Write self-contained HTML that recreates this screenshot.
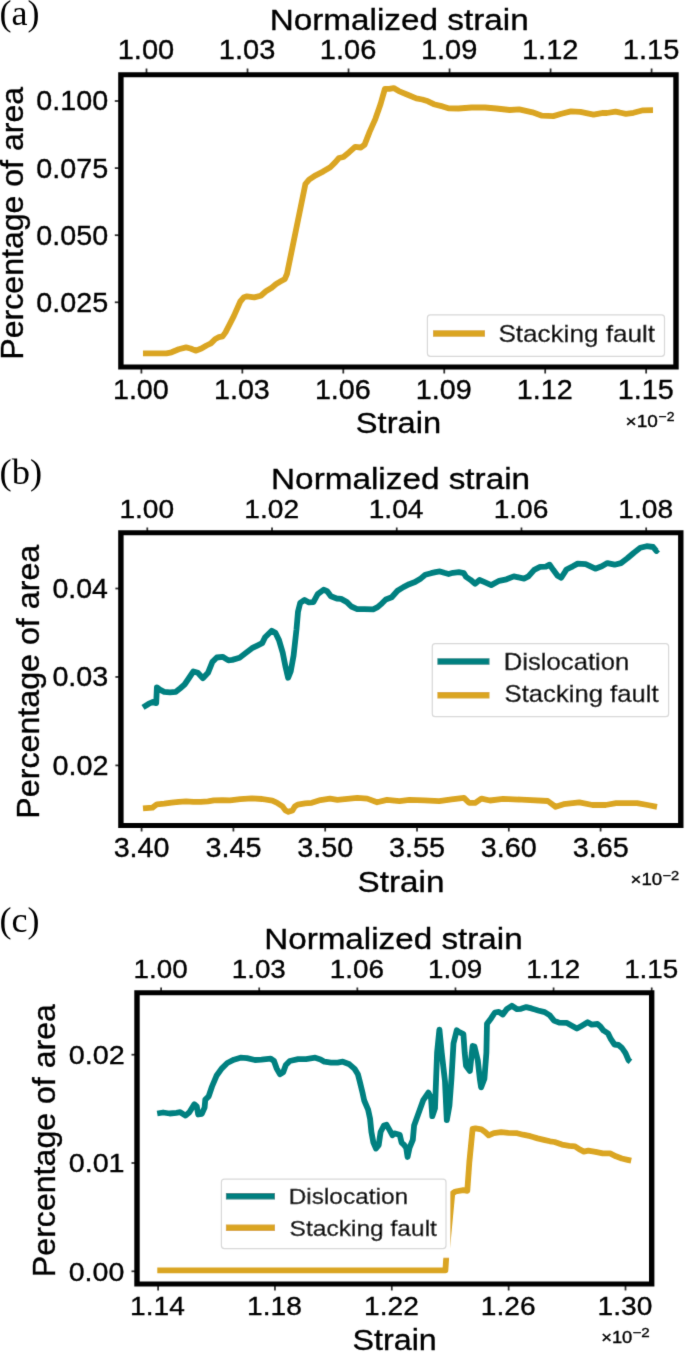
<!DOCTYPE html>
<html><head><meta charset="utf-8"><style>
html,body{margin:0;padding:0;background:#fff;width:685px;height:1352px;overflow:hidden}
svg{display:block}
</style></head><body>
<svg width="685" height="1352" viewBox="0 0 685 1352">
<defs><filter id="bl" x="0" y="0" width="685" height="1352" filterUnits="userSpaceOnUse"><feConvolveMatrix order="3" kernelMatrix="0.01134 0.08382 0.01134 0.08382 0.61935 0.08382 0.01134 0.08382 0.01134" edgeMode="duplicate" preserveAlpha="false"/></filter></defs>
<rect width="685" height="1352" fill="#fff"/>
<g filter="url(#bl)">
<text transform="translate(-0.49,24.80) scale(0.9983,1)" style="font-family:'Liberation Serif',serif;font-size:36.17px" fill="#000" stroke="#000" stroke-width="0.000">(a)</text>
<text transform="translate(269.67,30.20) scale(1.1122,1)" style="font-family:'Liberation Sans',sans-serif;font-size:29.94px" fill="#000" stroke="#000" stroke-width="0.350">Normalized strain</text>
<text transform="translate(117.70,59.00) scale(1.0700,1)" style="font-family:'Liberation Sans',sans-serif;font-size:27.14px" fill="#000" stroke="#000" stroke-width="0.350">1.00</text>
<text transform="translate(218.80,59.00) scale(1.0700,1)" style="font-family:'Liberation Sans',sans-serif;font-size:27.14px" fill="#000" stroke="#000" stroke-width="0.350">1.03</text>
<text transform="translate(319.82,59.00) scale(1.0700,1)" style="font-family:'Liberation Sans',sans-serif;font-size:27.14px" fill="#000" stroke="#000" stroke-width="0.350">1.06</text>
<text transform="translate(420.88,59.00) scale(1.0700,1)" style="font-family:'Liberation Sans',sans-serif;font-size:27.14px" fill="#000" stroke="#000" stroke-width="0.350">1.09</text>
<text transform="translate(521.94,59.00) scale(1.0700,1)" style="font-family:'Liberation Sans',sans-serif;font-size:27.14px" fill="#000" stroke="#000" stroke-width="0.350">1.12</text>
<text transform="translate(622.85,59.00) scale(1.0700,1)" style="font-family:'Liberation Sans',sans-serif;font-size:27.14px" fill="#000" stroke="#000" stroke-width="0.350">1.15</text>
<line x1="146.50" y1="68.5" x2="146.50" y2="73" stroke="#333" stroke-width="1.8"/>
<line x1="247.52" y1="68.5" x2="247.52" y2="73" stroke="#333" stroke-width="1.8"/>
<line x1="348.54" y1="68.5" x2="348.54" y2="73" stroke="#333" stroke-width="1.8"/>
<line x1="449.56" y1="68.5" x2="449.56" y2="73" stroke="#333" stroke-width="1.8"/>
<line x1="550.58" y1="68.5" x2="550.58" y2="73" stroke="#333" stroke-width="1.8"/>
<line x1="651.60" y1="68.5" x2="651.60" y2="73" stroke="#333" stroke-width="1.8"/>
<line x1="141.40" y1="368" x2="141.40" y2="373.5" stroke="#333" stroke-width="1.8"/>
<line x1="242.35" y1="368" x2="242.35" y2="373.5" stroke="#333" stroke-width="1.8"/>
<line x1="343.30" y1="368" x2="343.30" y2="373.5" stroke="#333" stroke-width="1.8"/>
<line x1="444.25" y1="368" x2="444.25" y2="373.5" stroke="#333" stroke-width="1.8"/>
<line x1="545.20" y1="368" x2="545.20" y2="373.5" stroke="#333" stroke-width="1.8"/>
<line x1="646.15" y1="368" x2="646.15" y2="373.5" stroke="#333" stroke-width="1.8"/>
<text transform="translate(112.91,398.60) scale(1.0700,1)" style="font-family:'Liberation Sans',sans-serif;font-size:26.86px" fill="#000" stroke="#000" stroke-width="0.350">1.00</text>
<text transform="translate(213.93,398.60) scale(1.0700,1)" style="font-family:'Liberation Sans',sans-serif;font-size:26.86px" fill="#000" stroke="#000" stroke-width="0.350">1.03</text>
<text transform="translate(314.88,398.60) scale(1.0700,1)" style="font-family:'Liberation Sans',sans-serif;font-size:26.86px" fill="#000" stroke="#000" stroke-width="0.350">1.06</text>
<text transform="translate(415.87,398.60) scale(1.0700,1)" style="font-family:'Liberation Sans',sans-serif;font-size:26.86px" fill="#000" stroke="#000" stroke-width="0.350">1.09</text>
<text transform="translate(516.87,398.60) scale(1.0700,1)" style="font-family:'Liberation Sans',sans-serif;font-size:26.86px" fill="#000" stroke="#000" stroke-width="0.350">1.12</text>
<text transform="translate(617.70,398.60) scale(1.0700,1)" style="font-family:'Liberation Sans',sans-serif;font-size:26.86px" fill="#000" stroke="#000" stroke-width="0.350">1.15</text>
<line x1="114.8" y1="101.00" x2="119" y2="101.00" stroke="#333" stroke-width="1.8"/>
<line x1="114.8" y1="168.10" x2="119" y2="168.10" stroke="#333" stroke-width="1.8"/>
<line x1="114.8" y1="235.20" x2="119" y2="235.20" stroke="#333" stroke-width="1.8"/>
<line x1="114.8" y1="302.30" x2="119" y2="302.30" stroke="#333" stroke-width="1.8"/>
<text transform="translate(36.28,110.40) scale(1.0578,1)" style="font-family:'Liberation Sans',sans-serif;font-size:27.14px" fill="#000" stroke="#000" stroke-width="0.350">0.100</text>
<text transform="translate(36.28,177.50) scale(1.0592,1)" style="font-family:'Liberation Sans',sans-serif;font-size:27.14px" fill="#000" stroke="#000" stroke-width="0.350">0.075</text>
<text transform="translate(36.28,244.60) scale(1.0578,1)" style="font-family:'Liberation Sans',sans-serif;font-size:27.14px" fill="#000" stroke="#000" stroke-width="0.350">0.050</text>
<text transform="translate(36.28,311.70) scale(1.0592,1)" style="font-family:'Liberation Sans',sans-serif;font-size:27.14px" fill="#000" stroke="#000" stroke-width="0.350">0.025</text>
<text transform="translate(22.90,359.63) rotate(-90) scale(1.0316,1)" style="font-family:'Liberation Sans',sans-serif;font-size:31.10px" stroke="#000" stroke-width="0.350">Percentage of area</text>
<text transform="translate(355.80,433.30) scale(1.0941,1)" style="font-family:'Liberation Sans',sans-serif;font-size:29.86px" fill="#000" stroke="#000" stroke-width="0.350">Strain</text>
<text transform="translate(625.57,426.60) scale(1.1289,1)" style="font-family:'Liberation Sans',sans-serif;font-size:16.86px" fill="#000" stroke="#000" stroke-width="0.350">×10</text>
<text transform="translate(658.62,420.70) scale(1.0715,1)" style="font-family:'Liberation Sans',sans-serif;font-size:13.00px" fill="#000" stroke="#000" stroke-width="0.350">−2</text>
<polyline points="143.0,353.3 156.9,353.3 166.5,353.3 171.5,352.3 178.8,349.3 186.1,347.4 190.5,348.5 195.6,350.7 201.4,348.5 206.5,345.5 210.9,343.4 215.3,339.0 218.9,337.2 222.6,336.4 225.5,332.4 233.8,316.1 240.3,301.5 244.0,297.2 246.9,296.4 254.2,297.4 260.8,295.7 265.9,291.3 271.7,287.7 276.1,284.0 281.2,281.1 284.9,278.9 287.0,273.8 305.4,184.0 309.1,179.6 315.7,175.3 323.0,171.6 330.3,167.2 335.4,162.1 339.0,158.0 343.4,157.0 349.2,152.2 355.1,146.8 360.9,147.5 364.6,144.6 369.6,131.9 375.4,118.8 380.5,104.2 384.9,88.9 389.3,88.9 393.7,88.1 398.8,91.1 407.6,94.7 416.3,98.4 422.2,99.5 428.0,101.3 433.8,104.2 442.6,106.4 448.4,108.3 458.5,108.5 471.7,107.5 485.0,107.5 496.4,108.5 509.7,110.0 519.2,109.4 532.5,112.3 542.0,115.7 553.3,116.1 561.4,113.8 570.9,111.4 580.4,111.8 593.6,114.6 603.1,112.8 606.9,113.0 615.5,111.6 625.9,113.8 633.5,112.8 643.0,110.3 653.0,110.2" fill="none" stroke="#DAA520" stroke-width="5.8" stroke-linejoin="round" stroke-linecap="butt"/>
<path d="M118.2,72.3H678.7V369.6H118.2Z M123.60000000000001,77.3V364.6H673.3V77.3Z" fill="#000" fill-rule="evenodd"/>
<rect x="427.4" y="314.9" width="237.10000000000002" height="41.400000000000034" rx="3" fill="#fff" fill-opacity="0.8" stroke="#d8d8d8" stroke-width="1.2"/>
<line x1="433" y1="333.5" x2="485" y2="333.5" stroke="#DAA520" stroke-width="6.5"/>
<text transform="translate(498.40,342.20) scale(1.0614,1)" style="font-family:'Liberation Sans',sans-serif;font-size:24.57px" fill="#000" stroke="#000" stroke-width="0.350">Stacking fault</text>
<text transform="translate(-0.51,483.50) scale(1.0106,1)" style="font-family:'Liberation Serif',serif;font-size:36.17px" fill="#000" stroke="#000" stroke-width="0.000">(b)</text>
<text transform="translate(271.07,489.40) scale(1.1236,1)" style="font-family:'Liberation Sans',sans-serif;font-size:29.65px" fill="#000" stroke="#000" stroke-width="0.350">Normalized strain</text>
<text transform="translate(119.41,517.80) scale(1.0700,1)" style="font-family:'Liberation Sans',sans-serif;font-size:26.29px" fill="#000" stroke="#000" stroke-width="0.350">1.00</text>
<text transform="translate(244.29,517.80) scale(1.0700,1)" style="font-family:'Liberation Sans',sans-serif;font-size:26.29px" fill="#000" stroke="#000" stroke-width="0.350">1.02</text>
<text transform="translate(368.71,517.80) scale(1.0700,1)" style="font-family:'Liberation Sans',sans-serif;font-size:26.29px" fill="#000" stroke="#000" stroke-width="0.350">1.04</text>
<text transform="translate(493.64,517.80) scale(1.0700,1)" style="font-family:'Liberation Sans',sans-serif;font-size:26.29px" fill="#000" stroke="#000" stroke-width="0.350">1.06</text>
<text transform="translate(618.35,517.80) scale(1.0700,1)" style="font-family:'Liberation Sans',sans-serif;font-size:26.29px" fill="#000" stroke="#000" stroke-width="0.350">1.08</text>
<line x1="147.30" y1="527.5" x2="147.30" y2="531.5" stroke="#333" stroke-width="1.8"/>
<line x1="272.02" y1="527.5" x2="272.02" y2="531.5" stroke="#333" stroke-width="1.8"/>
<line x1="396.74" y1="527.5" x2="396.74" y2="531.5" stroke="#333" stroke-width="1.8"/>
<line x1="521.46" y1="527.5" x2="521.46" y2="531.5" stroke="#333" stroke-width="1.8"/>
<line x1="646.18" y1="527.5" x2="646.18" y2="531.5" stroke="#333" stroke-width="1.8"/>
<line x1="141.60" y1="826" x2="141.60" y2="831.5" stroke="#333" stroke-width="1.8"/>
<line x1="233.40" y1="826" x2="233.40" y2="831.5" stroke="#333" stroke-width="1.8"/>
<line x1="325.20" y1="826" x2="325.20" y2="831.5" stroke="#333" stroke-width="1.8"/>
<line x1="417.00" y1="826" x2="417.00" y2="831.5" stroke="#333" stroke-width="1.8"/>
<line x1="508.80" y1="826" x2="508.80" y2="831.5" stroke="#333" stroke-width="1.8"/>
<line x1="600.60" y1="826" x2="600.60" y2="831.5" stroke="#333" stroke-width="1.8"/>
<text transform="translate(113.65,856.60) scale(1.0700,1)" style="font-family:'Liberation Sans',sans-serif;font-size:26.86px" fill="#000" stroke="#000" stroke-width="0.350">3.40</text>
<text transform="translate(205.50,856.60) scale(1.0700,1)" style="font-family:'Liberation Sans',sans-serif;font-size:26.86px" fill="#000" stroke="#000" stroke-width="0.350">3.45</text>
<text transform="translate(297.25,856.60) scale(1.0700,1)" style="font-family:'Liberation Sans',sans-serif;font-size:26.86px" fill="#000" stroke="#000" stroke-width="0.350">3.50</text>
<text transform="translate(389.10,856.60) scale(1.0700,1)" style="font-family:'Liberation Sans',sans-serif;font-size:26.86px" fill="#000" stroke="#000" stroke-width="0.350">3.55</text>
<text transform="translate(480.85,856.60) scale(1.0700,1)" style="font-family:'Liberation Sans',sans-serif;font-size:26.86px" fill="#000" stroke="#000" stroke-width="0.350">3.60</text>
<text transform="translate(572.70,856.60) scale(1.0700,1)" style="font-family:'Liberation Sans',sans-serif;font-size:26.86px" fill="#000" stroke="#000" stroke-width="0.350">3.65</text>
<line x1="115.4" y1="588.50" x2="119.6" y2="588.50" stroke="#333" stroke-width="1.8"/>
<line x1="115.4" y1="676.95" x2="119.6" y2="676.95" stroke="#333" stroke-width="1.8"/>
<line x1="115.4" y1="765.40" x2="119.6" y2="765.40" stroke="#333" stroke-width="1.8"/>
<text transform="translate(52.39,597.90) scale(1.0607,1)" style="font-family:'Liberation Sans',sans-serif;font-size:26.86px" fill="#000" stroke="#000" stroke-width="0.350">0.04</text>
<text transform="translate(52.38,686.35) scale(1.0693,1)" style="font-family:'Liberation Sans',sans-serif;font-size:26.86px" fill="#000" stroke="#000" stroke-width="0.350">0.03</text>
<text transform="translate(52.38,774.80) scale(1.0727,1)" style="font-family:'Liberation Sans',sans-serif;font-size:26.86px" fill="#000" stroke="#000" stroke-width="0.350">0.02</text>
<text transform="translate(39.40,818.64) rotate(-90) scale(1.0072,1)" style="font-family:'Liberation Sans',sans-serif;font-size:31.98px" stroke="#000" stroke-width="0.350">Percentage of area</text>
<text transform="translate(357.57,892.40) scale(1.1346,1)" style="font-family:'Liberation Sans',sans-serif;font-size:29.29px" fill="#000" stroke="#000" stroke-width="0.350">Strain</text>
<text transform="translate(630.59,885.30) scale(1.1353,1)" style="font-family:'Liberation Sans',sans-serif;font-size:16.43px" fill="#000" stroke="#000" stroke-width="0.350">×10</text>
<text transform="translate(662.48,879.50) scale(1.1484,1)" style="font-family:'Liberation Sans',sans-serif;font-size:12.71px" fill="#000" stroke="#000" stroke-width="0.350">−2</text>
<polyline points="143.0,808.4 152.5,807.6 156.9,804.3 164.2,803.7 171.5,802.6 178.8,801.8 186.1,801.3 193.4,801.8 200.7,801.9 208.0,801.4 213.8,800.3 222.6,800.2 230.0,800.3 240.2,799.2 251.9,798.4 262.1,799.0 272.3,800.6 276.7,802.6 282.5,806.4 285.4,810.4 288.4,811.8 292.4,810.4 294.8,806.5 297.7,804.6 305.0,803.4 311.8,802.8 320.5,800.1 330.0,798.7 337.4,799.9 357.3,797.9 367.2,798.6 377.1,802.3 387.0,799.9 399.5,801.1 409.4,799.9 424.3,800.4 439.2,801.1 451.6,799.4 464.0,797.9 469.0,802.8 475.2,802.8 481.4,798.6 490.0,800.5 503.1,798.9 521.5,799.7 547.8,801.0 555.7,806.8 563.6,804.2 579.3,802.3 592.5,805.0 605.6,805.0 616.1,803.1 637.1,803.1 647.6,805.0 657.0,806.8" fill="none" stroke="#DAA520" stroke-width="5.8" stroke-linejoin="round" stroke-linecap="butt"/>
<polyline points="143.0,707.4 148.1,704.2 152.5,702.0 156.2,703.1 156.9,687.4 159.8,689.6 164.2,691.8 170.0,692.3 175.9,691.8 180.3,688.2 184.6,684.5 189.0,678.0 193.4,671.4 197.8,672.8 202.9,678.2 208.0,672.8 212.4,661.9 216.8,657.5 222.6,656.8 228.4,660.4 232.3,659.9 239.6,657.7 245.4,653.3 252.0,648.2 257.8,645.3 262.2,643.1 265.1,637.2 271.7,630.7 275.4,632.8 279.0,640.1 282.7,652.6 285.6,667.2 288.1,677.8 290.7,671.5 293.6,655.5 296.5,629.2 298.0,611.7 300.2,602.9 304.6,599.9 309.0,602.4 313.4,602.1 317.7,594.1 323.6,589.7 327.2,591.2 330.9,596.3 336.7,598.5 341.1,598.9 346.9,602.1 351.3,606.5 357.2,609.1 364.5,609.1 373.2,609.4 377.6,607.2 382.0,603.3 385.8,599.5 391.7,597.3 397.5,590.8 403.4,587.1 409.2,584.2 415.0,582.0 420.9,578.4 425.3,574.7 431.1,573.2 435.5,572.2 439.9,571.4 444.2,572.8 448.6,574.0 453.0,572.8 458.8,572.2 463.9,573.2 466.1,576.9 470.5,579.8 475.1,583.7 479.5,580.0 484.6,582.2 491.2,585.1 499.2,580.8 506.5,579.3 513.8,576.4 524.0,578.6 528.4,576.4 534.2,569.8 540.1,566.9 545.9,566.6 549.6,564.7 553.2,569.8 557.6,575.7 561.2,577.8 564.9,572.0 566.4,569.5 572.8,566.3 577.7,563.6 585.7,564.2 595.3,568.7 601.8,566.3 607.4,563.1 614.6,564.7 621.0,563.1 627.4,558.3 633.9,552.7 640.3,547.8 646.7,546.2 653.1,547.0 656.4,551.0 658.0,549.5" fill="none" stroke="#008080" stroke-width="5.8" stroke-linejoin="round" stroke-linecap="butt"/>
<path d="M118.2,530.3H683.5V827.9H118.2Z M123.60000000000001,535.3V822.9H678.0999999999999V535.3Z" fill="#000" fill-rule="evenodd"/>
<rect x="432.3" y="643.6" width="236.3" height="73.10000000000002" rx="3" fill="#fff" fill-opacity="0.8" stroke="#d8d8d8" stroke-width="1.2"/>
<line x1="437.4" y1="661.6" x2="489.5" y2="661.6" stroke="#008080" stroke-width="6.5"/>
<line x1="437.4" y1="695.3" x2="489.5" y2="695.3" stroke="#DAA520" stroke-width="6.5"/>
<text transform="translate(503.69,669.70) scale(1.1044,1)" style="font-family:'Liberation Sans',sans-serif;font-size:23.29px" fill="#000" stroke="#000" stroke-width="0.350">Dislocation</text>
<text transform="translate(504.62,702.40) scale(1.1012,1)" style="font-family:'Liberation Sans',sans-serif;font-size:23.29px" fill="#000" stroke="#000" stroke-width="0.350">Stacking fault</text>
<text transform="translate(-0.49,931.80) scale(1.0063,1)" style="font-family:'Liberation Serif',serif;font-size:35.88px" fill="#000" stroke="#000" stroke-width="0.000">(c)</text>
<text transform="translate(264.17,948.70) scale(1.1491,1)" style="font-family:'Liberation Sans',sans-serif;font-size:28.92px" fill="#000" stroke="#000" stroke-width="0.350">Normalized strain</text>
<text transform="translate(133.52,977.50) scale(1.0700,1)" style="font-family:'Liberation Sans',sans-serif;font-size:26.00px" fill="#000" stroke="#000" stroke-width="0.350">1.00</text>
<text transform="translate(231.71,977.50) scale(1.0700,1)" style="font-family:'Liberation Sans',sans-serif;font-size:26.00px" fill="#000" stroke="#000" stroke-width="0.350">1.03</text>
<text transform="translate(329.83,977.50) scale(1.0700,1)" style="font-family:'Liberation Sans',sans-serif;font-size:26.00px" fill="#000" stroke="#000" stroke-width="0.350">1.06</text>
<text transform="translate(427.99,977.50) scale(1.0700,1)" style="font-family:'Liberation Sans',sans-serif;font-size:26.00px" fill="#000" stroke="#000" stroke-width="0.350">1.09</text>
<text transform="translate(526.15,977.50) scale(1.0700,1)" style="font-family:'Liberation Sans',sans-serif;font-size:26.00px" fill="#000" stroke="#000" stroke-width="0.350">1.12</text>
<text transform="translate(624.16,977.50) scale(1.0700,1)" style="font-family:'Liberation Sans',sans-serif;font-size:26.00px" fill="#000" stroke="#000" stroke-width="0.350">1.15</text>
<line x1="161.10" y1="987.5" x2="161.10" y2="991" stroke="#333" stroke-width="1.8"/>
<line x1="259.22" y1="987.5" x2="259.22" y2="991" stroke="#333" stroke-width="1.8"/>
<line x1="357.34" y1="987.5" x2="357.34" y2="991" stroke="#333" stroke-width="1.8"/>
<line x1="455.46" y1="987.5" x2="455.46" y2="991" stroke="#333" stroke-width="1.8"/>
<line x1="553.58" y1="987.5" x2="553.58" y2="991" stroke="#333" stroke-width="1.8"/>
<line x1="651.70" y1="987.5" x2="651.70" y2="991" stroke="#333" stroke-width="1.8"/>
<line x1="158.10" y1="1285" x2="158.10" y2="1290.5" stroke="#333" stroke-width="1.8"/>
<line x1="274.95" y1="1285" x2="274.95" y2="1290.5" stroke="#333" stroke-width="1.8"/>
<line x1="391.80" y1="1285" x2="391.80" y2="1290.5" stroke="#333" stroke-width="1.8"/>
<line x1="508.65" y1="1285" x2="508.65" y2="1290.5" stroke="#333" stroke-width="1.8"/>
<line x1="625.50" y1="1285" x2="625.50" y2="1290.5" stroke="#333" stroke-width="1.8"/>
<text transform="translate(130.07,1315.20) scale(1.0700,1)" style="font-family:'Liberation Sans',sans-serif;font-size:26.29px" fill="#000" stroke="#000" stroke-width="0.350">1.14</text>
<text transform="translate(247.12,1315.20) scale(1.0700,1)" style="font-family:'Liberation Sans',sans-serif;font-size:26.29px" fill="#000" stroke="#000" stroke-width="0.350">1.18</text>
<text transform="translate(364.07,1315.20) scale(1.0700,1)" style="font-family:'Liberation Sans',sans-serif;font-size:26.29px" fill="#000" stroke="#000" stroke-width="0.350">1.22</text>
<text transform="translate(480.83,1315.20) scale(1.0700,1)" style="font-family:'Liberation Sans',sans-serif;font-size:26.29px" fill="#000" stroke="#000" stroke-width="0.350">1.26</text>
<text transform="translate(597.61,1315.20) scale(1.0700,1)" style="font-family:'Liberation Sans',sans-serif;font-size:26.29px" fill="#000" stroke="#000" stroke-width="0.350">1.30</text>
<line x1="131.5" y1="1054.70" x2="135.5" y2="1054.70" stroke="#333" stroke-width="1.8"/>
<line x1="131.5" y1="1163.00" x2="135.5" y2="1163.00" stroke="#333" stroke-width="1.8"/>
<line x1="131.5" y1="1271.30" x2="135.5" y2="1271.30" stroke="#333" stroke-width="1.8"/>
<text transform="translate(68.68,1063.90) scale(1.0940,1)" style="font-family:'Liberation Sans',sans-serif;font-size:26.29px" fill="#000" stroke="#000" stroke-width="0.350">0.02</text>
<text transform="translate(68.68,1172.20) scale(1.0934,1)" style="font-family:'Liberation Sans',sans-serif;font-size:26.29px" fill="#000" stroke="#000" stroke-width="0.350">0.01</text>
<text transform="translate(68.69,1280.50) scale(1.0875,1)" style="font-family:'Liberation Sans',sans-serif;font-size:26.29px" fill="#000" stroke="#000" stroke-width="0.350">0.00</text>
<text transform="translate(54.90,1277.13) rotate(-90) scale(1.0088,1)" style="font-family:'Liberation Sans',sans-serif;font-size:31.83px" stroke="#000" stroke-width="0.350">Percentage of area</text>
<text transform="translate(352.62,1350.40) scale(1.0846,1)" style="font-family:'Liberation Sans',sans-serif;font-size:29.71px" fill="#000" stroke="#000" stroke-width="0.350">Strain</text>
<text transform="translate(601.22,1342.80) scale(1.1259,1)" style="font-family:'Liberation Sans',sans-serif;font-size:16.29px" fill="#000" stroke="#000" stroke-width="0.350">×10</text>
<text transform="translate(632.46,1337.20) scale(1.1997,1)" style="font-family:'Liberation Sans',sans-serif;font-size:12.57px" fill="#000" stroke="#000" stroke-width="0.350">−2</text>
<polyline points="157.3,1270.3 300.0,1270.3 445.4,1270.3 446.2,1258.0 452.3,1193.5 455.5,1191.5 463.4,1190.2 467.3,1190.8 469.3,1162.6 472.6,1128.9 475.5,1128.4 481.4,1129.3 485.0,1131.8 488.7,1135.4 493.8,1133.2 501.1,1132.2 508.4,1132.8 517.2,1133.2 523.0,1134.7 530.3,1136.2 537.6,1138.4 544.9,1140.1 550.0,1141.3 554.6,1142.0 561.9,1144.6 569.2,1145.8 575.0,1146.4 580.1,1149.7 583.8,1151.6 588.2,1150.7 595.5,1151.9 602.8,1153.4 610.1,1153.4 615.9,1156.3 621.8,1158.5 627.6,1159.9 631.2,1160.7" fill="none" stroke="#DAA520" stroke-width="5.8" stroke-linejoin="round" stroke-linecap="butt"/>
<polyline points="157.2,1113.5 163.1,1112.5 169.7,1113.5 176.3,1112.8 180.2,1112.2 185.5,1115.6 189.4,1112.2 194.3,1104.3 196.8,1106.5 198.2,1114.5 201.8,1113.8 204.6,1107.6 205.3,1099.6 208.7,1096.3 212.0,1086.5 216.5,1075.8 221.6,1068.6 227.3,1063.0 233.9,1059.7 240.5,1057.7 247.0,1058.1 254.9,1060.0 261.5,1059.7 270.7,1058.7 274.0,1061.0 276.6,1068.3 279.9,1074.2 283.2,1072.2 285.8,1065.0 289.8,1061.0 298.1,1059.1 306.0,1059.1 315.2,1057.7 320.5,1059.4 324.4,1061.7 331.0,1062.6 337.6,1062.6 342.8,1061.7 349.4,1064.3 354.6,1068.9 357.9,1074.2 359.9,1082.0 362.5,1092.6 364.2,1100.5 368.1,1109.7 370.1,1118.9 371.4,1132.0 373.4,1142.6 376.0,1148.5 378.7,1145.2 380.6,1132.0 383.9,1125.5 386.5,1124.8 389.2,1129.4 392.5,1135.3 394.4,1133.4 399.7,1134.7 401.6,1142.6 404.3,1145.2 406.2,1147.8 407.6,1157.0 409.5,1147.8 412.8,1139.9 414.1,1125.5 417.9,1114.9 423.1,1100.4 428.4,1092.6 431.0,1097.8 432.3,1116.2 435.0,1108.3 437.1,1052.6 439.4,1029.6 441.7,1052.6 445.0,1081.5 446.8,1120.2 449.4,1105.7 451.4,1079.4 453.5,1043.4 456.8,1030.2 459.4,1032.2 463.4,1034.2 464.7,1052.6 466.0,1065.7 469.9,1071.0 472.6,1046.0 474.5,1046.6 477.8,1060.4 479.8,1078.8 481.1,1087.4 484.4,1078.8 486.4,1052.6 487.0,1023.7 491.0,1018.4 494.9,1012.5 498.8,1011.8 502.8,1014.5 506.7,1009.2 511.8,1005.8 517.1,1009.2 521.0,1008.8 526.3,1007.1 531.5,1008.4 538.1,1010.5 544.7,1012.1 549.9,1015.4 553.9,1020.6 559.1,1022.6 567.0,1022.9 572.3,1025.9 576.9,1028.5 581.5,1025.9 587.6,1022.3 591.7,1024.6 597.5,1024.0 600.4,1026.4 603.4,1030.4 608.0,1033.4 610.9,1039.2 614.5,1044.5 618.5,1045.0 622.0,1048.0 625.5,1053.2 628.5,1060.2 630.5,1061.8" fill="none" stroke="#008080" stroke-width="5.8" stroke-linejoin="round" stroke-linecap="butt"/>
<rect x="215" y="1175" width="235.3" height="82.7" fill="#fff"/>
<path d="M134.3,990.2H654.4000000000001V1286.5H134.3Z M139.7,995.2V1281.5H649.0V995.2Z" fill="#000" fill-rule="evenodd"/>
<rect x="221.4" y="1179.2" width="224.6" height="69.39999999999986" rx="3" fill="#fff" fill-opacity="0.8" stroke="#d8d8d8" stroke-width="1.2"/>
<line x1="225.9" y1="1196.2" x2="275.0" y2="1196.2" stroke="#008080" stroke-width="6.5"/>
<line x1="225.9" y1="1227.8" x2="275.0" y2="1227.8" stroke="#DAA520" stroke-width="6.5"/>
<text transform="translate(288.70,1203.70) scale(1.1468,1)" style="font-family:'Liberation Sans',sans-serif;font-size:21.29px" fill="#000" stroke="#000" stroke-width="0.350">Dislocation</text>
<text transform="translate(289.57,1235.80) scale(1.0877,1)" style="font-family:'Liberation Sans',sans-serif;font-size:22.57px" fill="#000" stroke="#000" stroke-width="0.350">Stacking fault</text>
</g>
</svg></body></html>
